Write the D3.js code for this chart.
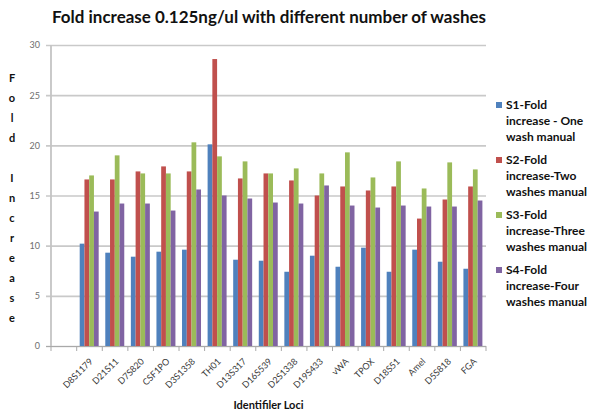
<!DOCTYPE html>
<html>
<head>
<meta charset="utf-8">
<script src="https://cdn.jsdelivr.net/npm/d3@7"></script>
<style>
  html, body { margin: 0; padding: 0; background: #ffffff; }
  svg { display: block; font-family: Lato, "Open Sans", sans-serif; }
</style>
</head>
<body>
<svg id="chart" width="592" height="412"></svg>
<script>
// Identifiler loci on the category axis
const categories = ["D8S1179", "D21S11", "D7S820", "CSF1PO", "D3S1358", "TH01", "D13S317", "D16S539",
  "D2S1338", "D19S433", "vWA", "TPOX", "D18S51", "Amel", "D5S818", "FGA"];

// Fold increase per locus for each washing protocol
const s1OneWash   = [10.2, 9.3, 8.9, 9.4, 9.6, 20.1, 8.6, 8.5, 7.4, 9.0, 7.9, 9.8, 7.4, 9.6, 8.4, 7.7];
const s2TwoWash   = [16.6, 16.6, 17.4, 17.9, 17.4, 28.6, 16.7, 17.2, 16.5, 15.0, 15.9, 15.5, 15.9, 12.7, 14.6, 15.9];
const s3ThreeWash = [17.0, 19.0, 17.2, 17.2, 20.3, 18.9, 18.4, 17.2, 17.7, 17.2, 19.3, 16.8, 18.4, 15.7, 18.3, 17.6];
const s4FourWash  = [13.4, 14.2, 14.2, 13.5, 15.6, 15.0, 14.7, 14.3, 14.2, 16.0, 14.0, 13.8, 14.0, 13.9, 13.9, 14.5];

const seriesNames = [
  ["S1-Fold", "increase - One", "wash manual"],
  ["S2-Fold", "increase-Two", "washes manual"],
  ["S3-Fold", "increase-Three", "washes manual"],
  ["S4-Fold", "increase-Four", "washes manual"]
];
const seriesValues = [s1OneWash, s2TwoWash, s3ThreeWash, s4FourWash];
const seriesColors = ["#4F81BD", "#C0504D", "#9BBB59", "#8064A2"];

const yTicks = [0, 5, 10, 15, 20, 25, 30];
const titleText = "Fold increase 0.125ng/ul with different number of washes";
const yTitle = "Fold Increase";
const xTitle = "Identifiler Loci";

const svg = d3.select("#chart");

// plot frame
const axisX = 51, plotRight = 486, plotTop = 45, plotBottom = 346;
const firstBand = 76.7;

const y = d3.scaleLinear().domain([0, 30]).range([plotBottom, plotTop]);
const x = d3.scaleBand().domain(categories).range([firstBand, plotRight]).padding(0);
const inner = 3.0;
const xs = d3.scaleBand().domain(d3.range(4)).range([inner, x.bandwidth() - inner - 0.6]).padding(0);

// title
svg.append("text")
  .attr("x", 52).attr("y", 23)
  .attr("textLength", 434).attr("lengthAdjust", "spacingAndGlyphs")
  .style("font-size", "17.5px").style("font-weight", 700).attr("fill", "#111")
  .text(titleText);

// horizontal gridlines and y axis ticks/labels
const yAxis = d3.axisLeft(y).tickValues(yTicks).tickSize(-(plotRight - axisX)).tickPadding(6).tickFormat(d3.format("d"));
const gy = svg.append("g").attr("transform", `translate(${axisX},0)`).call(yAxis);
gy.select(".domain").remove();
gy.selectAll(".tick line").attr("stroke", "#c9c9c9").attr("stroke-width", 1.6).attr("x1", -5);
gy.selectAll(".tick text").attr("fill", "#6e6e6e").style("font-size", "9px").style("font-family", "Lato, sans-serif").attr("x", -11);

// vertical axis line
svg.append("line")
  .attr("x1", axisX).attr("x2", axisX).attr("y1", plotTop).attr("y2", plotBottom)
  .attr("stroke", "#c4c4c4").attr("stroke-width", 1.8);

// bars
const groups = svg.append("g").selectAll("g")
  .data(categories)
  .join("g")
  .attr("transform", d => `translate(${x(d)},0)`);

groups.selectAll("rect")
  .data((d, i) => seriesValues.map((vals, s) => ({ s, v: vals[i] })))
  .join("rect")
  .attr("x", d => xs(d.s))
  .attr("width", xs.bandwidth())
  .attr("y", d => y(d.v))
  .attr("height", d => y(0) - y(d.v))
  .attr("fill", d => seriesColors[d.s]);

// category axis
const xAxis = d3.axisBottom(x).tickSize(0).tickPadding(0);
const gx = svg.append("g").attr("transform", `translate(0,${plotBottom})`).call(xAxis);
gx.select(".domain").remove();
svg.append("line")
  .attr("x1", axisX - 5).attr("x2", plotRight).attr("y1", plotBottom + 0.5).attr("y2", plotBottom + 0.5)
  .attr("stroke", "#a9a9a9").attr("stroke-width", 1);
const boundaries = [axisX].concat(categories.map(c => x(c))).concat([x(categories[categories.length - 1]) + x.bandwidth()]);
svg.append("g").selectAll("line")
  .data(boundaries)
  .join("line")
  .attr("x1", d => d).attr("x2", d => d)
  .attr("y1", plotBottom).attr("y2", plotBottom + 5)
  .attr("stroke", "#a9a9a9").attr("stroke-width", 1);
gx.selectAll(".tick text")
  .attr("fill", "#3a3a3a")
  .style("font-size", "9px").style("font-family", "Lato, sans-serif")
  .attr("text-anchor", "end")
  .attr("dy", 0)
  .attr("transform", "translate(4,16) rotate(-45)");

// y axis title, stacked letters
const yLetters = yTitle.split("");
svg.append("g").selectAll("text")
  .data(yLetters)
  .join("text")
  .attr("x", 12)
  .attr("y", (d, i) => 82 + i * 20)
  .attr("text-anchor", "middle")
  .style("font-size", "11px").style("font-weight", 700).attr("fill", "#111")
  .text(d => d);

// x axis title
svg.append("text")
  .attr("x", (axisX + plotRight) / 2).attr("y", 409)
  .attr("text-anchor", "middle")
  .style("font-size", "11px").style("font-weight", 700).attr("fill", "#111")
  .text(xTitle);

// legend
const legend = svg.append("g");
seriesNames.forEach((lines, s) => {
  const top = 105 + s * 55;
  legend.append("rect")
    .attr("x", 496).attr("y", top - 3).attr("width", 6).attr("height", 6)
    .attr("fill", seriesColors[s]);
  lines.forEach((t, j) => {
    legend.append("text")
      .attr("x", 506).attr("y", top + j * 16 + 4)
      .style("font-size", "12px").style("font-weight", 700).attr("fill", "#111")
      .text(t);
  });
});
</script>
</body>
</html>
